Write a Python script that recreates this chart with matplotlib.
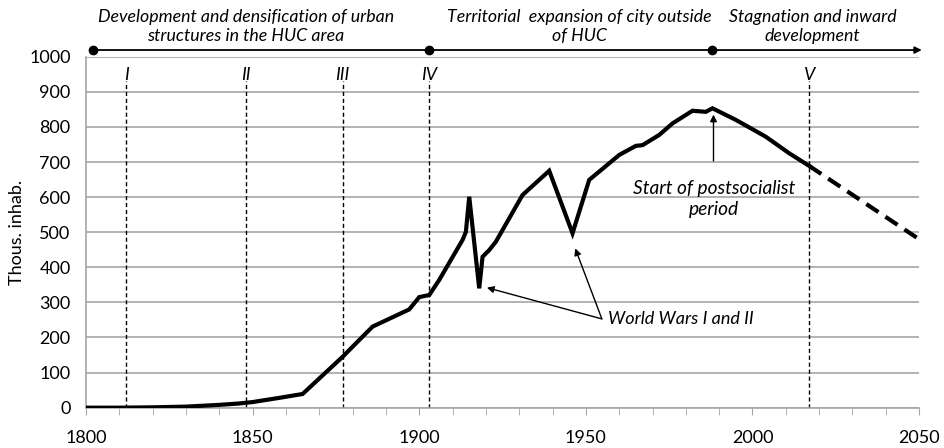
import matplotlib.pyplot as plt
from matplotlib.ticker import MultipleLocator

plt.rcParams.update({'font.family': ['Lato', 'DejaVu Sans'], 'font.size': 13})

# population, thousands of inhabitants (observed)
years = [1800, 1810, 1820, 1830, 1840, 1846, 1850, 1858, 1865, 1877, 1886, 1897, 1900, 1903,
         1906, 1913, 1914, 1915, 1918, 1919, 1921, 1923, 1931, 1939, 1946, 1951, 1960, 1965,
         1967, 1972, 1976, 1982, 1986, 1988, 1995, 2004, 2011, 2017]
population = [0, 0, 1, 3, 8, 12, 16, 28, 39, 145, 231, 280, 315, 321,
              364, 478, 501, 601, 340, 430, 449, 473, 606, 675, 497, 649, 720, 746,
              748, 777, 810, 846, 843, 853, 820, 772, 725, 689]

# projection
proj_years = [2017, 2050]
proj_population = [689, 480]

# development stages
stage_years = [1812, 1848, 1877, 1903, 2017]
stage_labels = ['I', 'II', 'III', 'IV', 'V']

# periods on the top timeline
period_starts = [1802, 1903, 1988]
period_centers = [1848, 1948, 2018]
period_labels = ['Development and densification of urban\nstructures in the HUC area',
                 'Territorial  expansion of city outside\nof HUC',
                 'Stagnation and inward\ndevelopment']

fig = plt.figure(figsize=(9.45, 4.48), dpi=100)
ax = fig.add_axes([0.091, 0.09, 0.8816, 0.7834])

ax.set_xlim(1800, 2050)
ax.set_ylim(0, 1000)
ax.xaxis.set_major_locator(MultipleLocator(50))
ax.xaxis.set_minor_locator(MultipleLocator(10))
ax.yaxis.set_major_locator(MultipleLocator(100))
ax.grid(axis='y', color='#a6a6a6', lw=1.2)
ax.set_axisbelow(True)
for side in ['top', 'right']:
    ax.spines[side].set_visible(False)
for side in ['left', 'bottom']:
    ax.spines[side].set_color('#a6a6a6')
    ax.spines[side].set_linewidth(1.2)
ax.tick_params(axis='y', length=0, pad=11, labelsize=13)
ax.tick_params(axis='x', which='both', direction='out', color='#a6a6a6', labelsize=13, pad=11)
ax.tick_params(axis='x', which='major', length=5)
ax.tick_params(axis='x', which='minor', length=5)
ax.set_ylabel('Thous. inhab.', fontsize=13, labelpad=3)

# stage lines
for yr, lab in zip(stage_years, stage_labels):
    ax.plot([yr, yr], [0, 930], color='k', lw=1, ls=(0, (3, 2)), zorder=2)
    ax.text(yr, 948, lab, style='italic', ha='center', va='center', fontsize=13)

# population curve
ax.plot(years, population, color='k', lw=3, solid_joinstyle='miter', zorder=3)
ax.plot(proj_years, proj_population, color='k', lw=3, ls=(0, (3.5, 2)), zorder=3)

# annotations
ax.annotate('', xy=(1988.3, 843), xytext=(1988.3, 695),
            arrowprops=dict(arrowstyle='-|>', color='k', lw=1, mutation_scale=10))
ax.text(1988.5, 595, 'Start of postsocialist\nperiod', style='italic', ha='center', va='center',
        fontsize=13.75, linespacing=1.3)
for xy in [(1920.3, 342), (1946.8, 454)]:
    ax.annotate('', xy=xy, xytext=(1954.8, 253),
                arrowprops=dict(arrowstyle='-|>', color='k', lw=1, mutation_scale=10,
                                shrinkA=0, shrinkB=0))
ax.text(1956.5, 253, 'World Wars I and II', style='italic', ha='left', va='center', fontsize=13)

# top timeline
ax.annotate('', xy=(2050.8, 1019), xytext=(period_starts[-1], 1019), annotation_clip=False,
            arrowprops=dict(arrowstyle='-|>', color='k', lw=1.3, mutation_scale=10,
                            shrinkA=0, shrinkB=0))
ax.plot([period_starts[0], period_starts[-1]], [1019, 1019], color='k', lw=1.3, clip_on=False)
ax.plot(period_starts, [1019] * len(period_starts), 'o', color='k', ms=6, clip_on=False)
for xc, lab in zip(period_centers, period_labels):
    ax.text(xc, 1086, lab, style='italic', ha='center', va='center', fontsize=12.8,
            linespacing=1.3, clip_on=False)

fig.savefig('out.png', dpi=100)
